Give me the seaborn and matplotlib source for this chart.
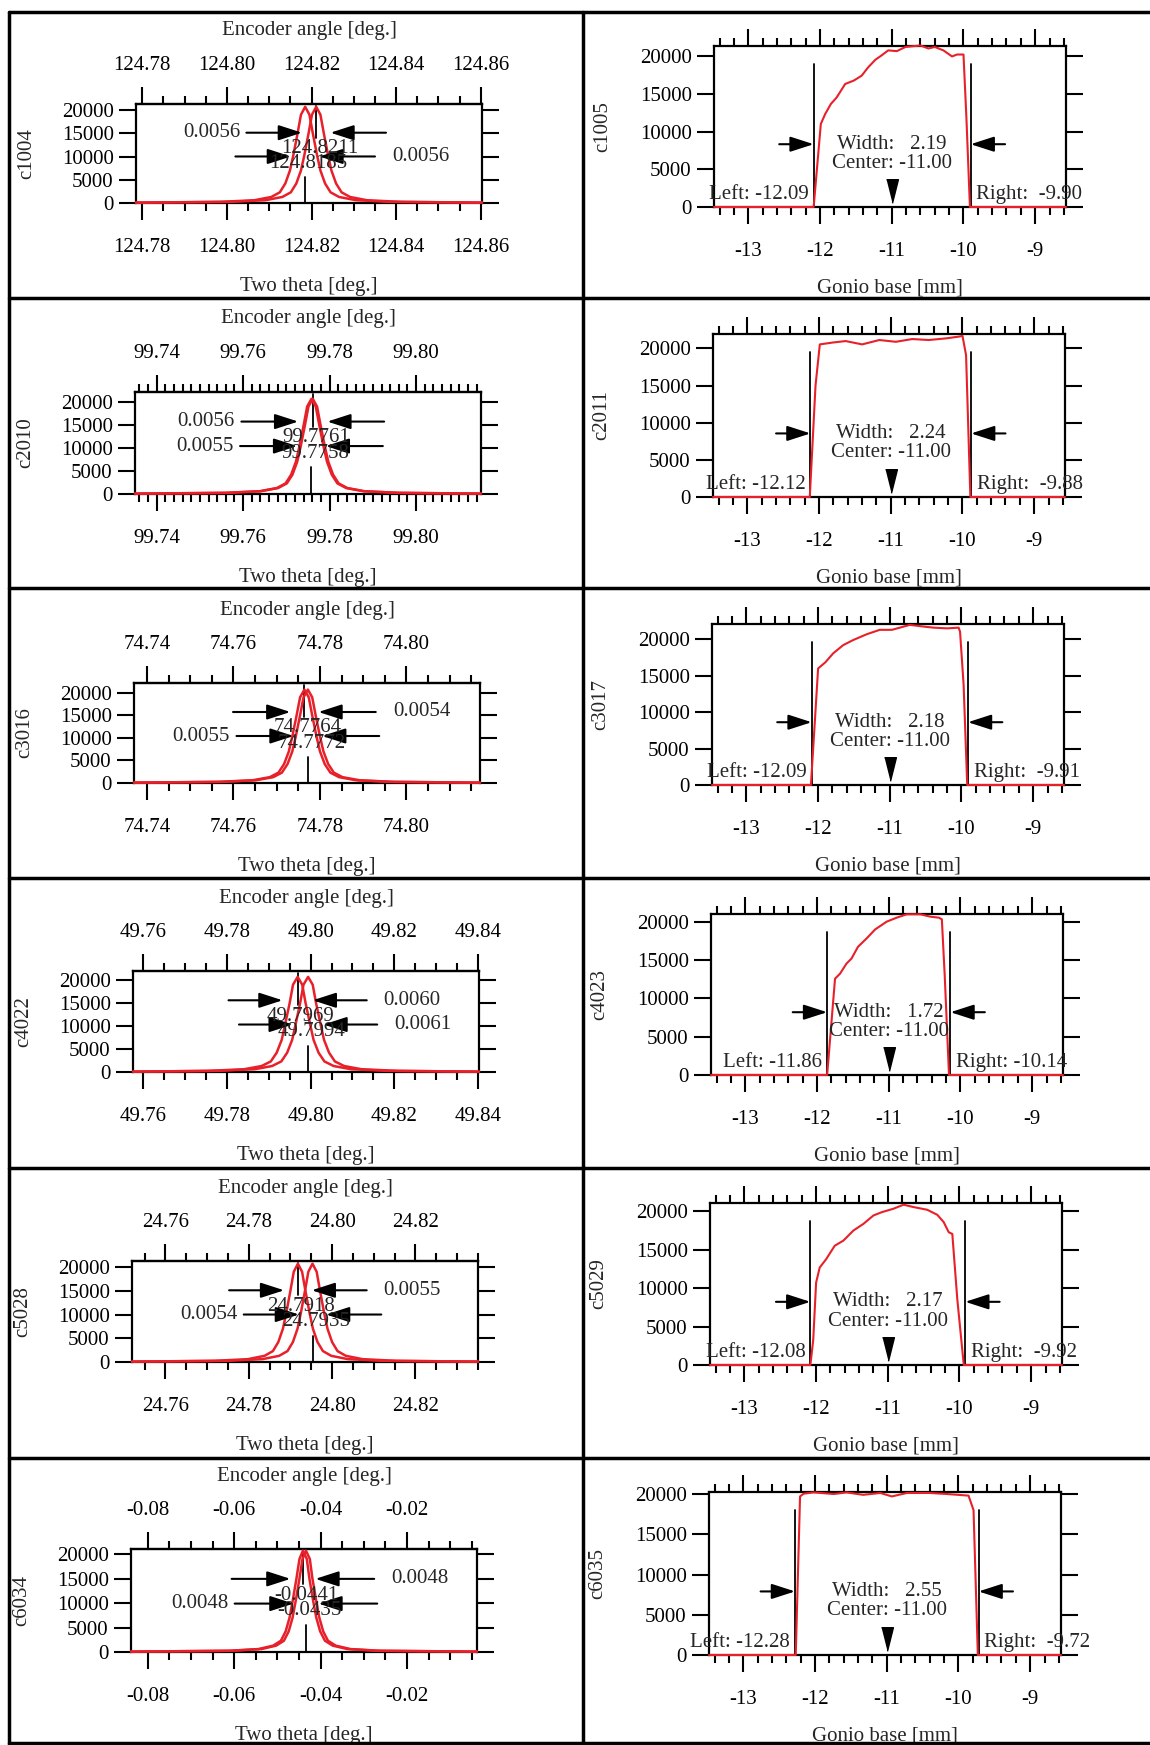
import matplotlib
matplotlib.use('Agg')
import matplotlib.pyplot as plt
from matplotlib.lines import Line2D
from matplotlib.ticker import MultipleLocator, FuncFormatter
import numpy as np
import seaborn as sns

sns.set_style('ticks')
plt.rcParams['font.family'] = ['Liberation Serif', 'DejaVu Serif']
plt.rcParams['axes.unicode_minus'] = False
plt.rcParams['font.size'] = 15

RED = '#e8202a'

# ---- left column: diffraction peaks (two scans per crystal) ----
left_names = ['c1004', 'c2010', 'c3016', 'c4022', 'c5028', 'c6034']

# counts at the sampled points of every peak (left flank, apex, right flank)
peak_counts = [80, 250, 600, 1300, 2300, 4200, 7000, 10300, 15000, 19000, 20700,
               19000, 15000, 10300, 7000, 4200, 2300, 1300, 600, 250, 80]

p1_a = [124.7785, 124.8011, 124.8091, 124.8131, 124.8151, 124.8164, 124.8175, 124.8183, 124.8193, 124.8201, 124.8211,
        124.8221, 124.8229, 124.8239, 124.8247, 124.8258, 124.8271, 124.8291, 124.8331, 124.8411, 124.8603]
p1_b = [124.7785, 124.7985, 124.8065, 124.8105, 124.8125, 124.8138, 124.8149, 124.8157, 124.8167, 124.8175, 124.8185,
        124.8195, 124.8203, 124.8213, 124.8221, 124.8232, 124.8245, 124.8265, 124.8305, 124.8385, 124.8603]
p2_a = [99.7350, 99.7561, 99.7641, 99.7681, 99.7701, 99.7714, 99.7725, 99.7733, 99.7743, 99.7751, 99.7761,
        99.7771, 99.7779, 99.7789, 99.7797, 99.7808, 99.7821, 99.7841, 99.7881, 99.7961, 99.8150]
p2_b = [99.7350, 99.7558, 99.7638, 99.7678, 99.7698, 99.7711, 99.7722, 99.7730, 99.7740, 99.7748, 99.7758,
        99.7768, 99.7776, 99.7786, 99.7794, 99.7805, 99.7818, 99.7838, 99.7878, 99.7958, 99.8150]
p3_a = [74.7370, 74.7564, 74.7644, 74.7684, 74.7704, 74.7717, 74.7728, 74.7736, 74.7746, 74.7754, 74.7764,
        74.7774, 74.7782, 74.7792, 74.7800, 74.7811, 74.7824, 74.7844, 74.7884, 74.7964, 74.8170]
p3_b = [74.7370, 74.7572, 74.7652, 74.7692, 74.7712, 74.7725, 74.7736, 74.7744, 74.7754, 74.7762, 74.7772,
        74.7782, 74.7790, 74.7800, 74.7808, 74.7819, 74.7832, 74.7852, 74.7892, 74.7972, 74.8170]
p4_a = [49.7576, 49.7755, 49.7841, 49.7883, 49.7905, 49.7919, 49.7931, 49.7939, 49.7950, 49.7958, 49.7969,
        49.7980, 49.7988, 49.7999, 49.8007, 49.8019, 49.8033, 49.8055, 49.8097, 49.8183, 49.8402]
p4_b = [49.7576, 49.7780, 49.7866, 49.7908, 49.7930, 49.7944, 49.7956, 49.7964, 49.7975, 49.7983, 49.7994,
        49.8005, 49.8013, 49.8024, 49.8032, 49.8044, 49.8058, 49.8080, 49.8122, 49.8208, 49.8402]
p5_a = [24.7520, 24.7718, 24.7798, 24.7838, 24.7858, 24.7871, 24.7882, 24.7890, 24.7900, 24.7908, 24.7918,
        24.7928, 24.7936, 24.7946, 24.7954, 24.7965, 24.7978, 24.7998, 24.8038, 24.8118, 24.8350]
p5_b = [24.7520, 24.7753, 24.7833, 24.7873, 24.7893, 24.7906, 24.7917, 24.7925, 24.7935, 24.7943, 24.7953,
        24.7963, 24.7971, 24.7981, 24.7989, 24.8000, 24.8013, 24.8033, 24.8073, 24.8153, 24.8350]
p6_a = [-0.0839, -0.0612, -0.0544, -0.0510, -0.0492, -0.0481, -0.0472, -0.0465, -0.0456, -0.0449, -0.0441,
        -0.0432, -0.0426, -0.0417, -0.0410, -0.0401, -0.0390, -0.0372, -0.0338, -0.0270, -0.0038]
p6_b = [-0.0839, -0.0605, -0.0537, -0.0503, -0.0485, -0.0474, -0.0465, -0.0458, -0.0449, -0.0442, -0.0434,
        -0.0425, -0.0419, -0.0410, -0.0403, -0.0394, -0.0383, -0.0365, -0.0331, -0.0263, -0.0038]

peaks_a = [p1_a, p2_a, p3_a, p4_a, p5_a, p6_a]
peaks_b = [p1_b, p2_b, p3_b, p4_b, p5_b, p6_b]
center_a = ['124.8211', '99.7761', '74.7764', '49.7969', '24.7918', '-0.0441']
center_b = ['124.8185', '99.7758', '74.7772', '49.7994', '24.7935', '-0.0435']
fwhm_a = [0.0056, 0.0056, 0.0054, 0.0060, 0.0055, 0.0048]
fwhm_b = [0.0056, 0.0055, 0.0055, 0.0061, 0.0054, 0.0048]
side_a = ['left', 'left', 'right', 'right', 'right', 'right']
side_b = ['right', 'left', 'left', 'right', 'left', 'left']
left_xlim = [(124.7785, 124.8603), (99.735, 99.815), (74.737, 74.817),
             (49.7576, 49.8402), (24.752, 24.835), (-0.0839, -0.0038)]
left_minor = [0.005, 0.002, 0.005, 0.005, 0.005, 0.005]
left_ytop = [21300, 22180, 22160, 21980, 21270, 21040]

# ---- right column: gonio base scans ----
right_names = ['c1005', 'c2011', 'c3017', 'c4023', 'c5029', 'c6035']
r1_x = [-13.48, -12.09, -12.04, -11.99, -11.93, -11.85, -11.77, -11.65, -11.53, -11.42, -11.33, -11.23, -11.14,
        -11.05, -10.93, -10.81, -10.60, -10.49, -10.40, -10.28, -10.16, -10.09, -10.00, -9.96, -9.91, -8.57]
r1_y = [0, 0, 5500, 11000, 12300, 13650, 14500, 16300, 16750, 17400, 18500, 19500, 20100,
        20750, 20650, 21200, 21400, 21000, 21200, 20750, 19950, 20200, 20200, 12000, 0, 0]
r2_x = [-13.48, -12.13, -12.05, -11.99, -11.81, -11.63, -11.40, -11.16, -10.93, -10.70, -10.47, -10.23,
        -10.05, -10.00, -9.95, -9.89, -8.57]
r2_y = [0, 0, 15000, 20550, 20800, 21000, 20550, 21140, 20900, 21270, 21140, 21360,
        21600, 21700, 19100, 0, 0]
r3_x = [-13.48, -12.10, -12.00, -11.90, -11.79, -11.65, -11.51, -11.32, -11.14, -10.97, -10.86, -10.72,
        -10.53, -10.39, -10.20, -10.04, -10.02, -9.97, -9.92, -8.57]
r3_y = [0, 0, 16000, 16830, 18070, 19200, 19900, 20700, 21300, 21300, 21600, 21980,
        21750, 21600, 21500, 21600, 21050, 13700, 0, 0]
r4_x = [-13.48, -11.86, -11.75, -11.68, -11.59, -11.52, -11.43, -11.31, -11.19, -11.03, -10.89, -10.75,
        -10.56, -10.42, -10.30, -10.26, -10.22, -10.16, -8.57]
r4_y = [0, 0, 12560, 13220, 14530, 15190, 16720, 17810, 18990, 20000, 20520, 20960,
        20960, 20650, 20520, 20300, 13000, 0, 0]
r5_x = [-13.48, -12.08, -12.04, -12.00, -11.95, -11.86, -11.74, -11.62, -11.48, -11.34, -11.20, -11.08,
        -10.92, -10.78, -10.64, -10.45, -10.31, -10.22, -10.15, -10.10, -10.03, -9.94, -8.57]
r5_y = [0, 0, 3275, 10700, 12660, 13750, 15500, 16160, 17470, 18340, 19430, 19870,
        20310, 20830, 20520, 20170, 19520, 18560, 17250, 17030, 8500, 0, 0]
r6_x = [-13.48, -12.27, -12.21, -12.16, -12.02, -11.74, -11.56, -11.33, -11.09, -10.93, -10.72, -10.40,
        -10.16, -9.86, -9.79, -9.73, -8.57]
r6_y = [0, 0, 19700, 20040, 20200, 20000, 20200, 19900, 20130, 19700, 20130, 20130,
        20000, 19800, 18000, 0, 0]

scan_x = [r1_x, r2_x, r3_x, r4_x, r5_x, r6_x]
scan_y = [r1_y, r2_y, r3_y, r4_y, r5_y, r6_y]
edge_left = [-12.09, -12.12, -12.09, -11.86, -12.08, -12.28]
edge_right = [-9.90, -9.88, -9.91, -10.14, -9.92, -9.72]
widths = [2.19, 2.24, 2.18, 1.72, 2.17, 2.55]
centers = [-11.00, -11.00, -11.00, -11.00, -11.00, -11.00]
right_ytop = [21330, 21950, 22100, 21000, 21050, 20250]

# ---- layout (pixel boxes of the plot frames: x0, y0, x1, y1) ----
left_boxes = [(136, 104, 482, 203), (135, 392, 481, 494), (134, 683, 480, 783),
              (133, 971, 479, 1072), (132, 1261, 478, 1362), (131, 1549, 477, 1652)]
right_boxes = [(714, 46, 1066, 207), (713, 334, 1065, 497), (712, 624, 1064, 785),
               (711, 914, 1063, 1075), (710, 1203, 1062, 1365), (709, 1492, 1061, 1655)]

W, H = 1150, 1745
fig = plt.figure(figsize=(W / 100, H / 100), dpi=100)
fig.patch.set_facecolor('white')


def box(x0, y0, x1, y1):
    return [x0 / W, 1 - y1 / H, (x1 - x0) / W, (y1 - y0) / H]


arrow_kw = dict(arrowstyle='-|>,head_length=1.3,head_width=0.42', mutation_scale=11,
                lw=1.5, color='black', shrinkA=0, shrinkB=0)
tri = [(-1, 2), (1, 2), (0, -2)]


def style_ticks(axis_obj, xmaj, xmin, pad):
    axis_obj.xaxis.set_major_locator(MultipleLocator(xmaj))
    axis_obj.xaxis.set_minor_locator(MultipleLocator(xmin))
    axis_obj.tick_params(axis='x', which='both', direction='out', width=1.5, colors='black', labelsize=15)
    axis_obj.tick_params(axis='x', which='major', length=12, pad=pad)
    axis_obj.tick_params(axis='x', which='minor', length=6)


def style_axes(ax, xmaj, xmin, top_ticks):
    for s in ax.spines.values():
        s.set_linewidth(1.6)
        s.set_color('black')
    style_ticks(ax, xmaj, xmin, 13.5)
    ax.set_yticks([0, 5000, 10000, 15000, 20000])
    ax.yaxis.set_major_formatter(FuncFormatter(lambda v, p: f'{v:.0f}'))
    ax.tick_params(axis='x', which='both', top=top_ticks, labeltop=False)
    ax.tick_params(axis='y', which='major', direction='out', width=1.5, length=12, pad=4,
                   colors='black', right=True, labelright=False, labelsize=15)
    ax.tick_params(axis='y', which='minor', left=False, right=False)
    ax.set_facecolor('white')


for i in range(6):
    # left panel
    x0, y0, x1, y1 = left_boxes[i]
    h = y1 - y0
    ax = fig.add_axes(box(*left_boxes[i]))
    xa, xb = peaks_a[i], peaks_b[i]
    sns.lineplot(x=xa, y=peak_counts, ax=ax, color=RED, lw=1.8, sort=False,
                 estimator=None, zorder=3, clip_on=False)
    sns.lineplot(x=xb, y=peak_counts, ax=ax, color=RED, lw=1.8, sort=False,
                 estimator=None, zorder=3, clip_on=False)
    ax.set_xlim(*left_xlim[i])
    ax.set_ylim(0, left_ytop[i])
    style_axes(ax, 0.02, left_minor[i], False)
    ax.xaxis.set_major_formatter(FuncFormatter(lambda v, p: f'{v:.2f}'))
    # encoder angle axis on top
    sec = ax.secondary_xaxis('top')
    style_ticks(sec, 0.02, left_minor[i], 9)
    sec.xaxis.set_major_formatter(FuncFormatter(lambda v, p: f'{v:.2f}'))
    sec.spines['top'].set_linewidth(1.6)
    ax.set_ylabel(left_names[i], fontsize=15)
    ax.yaxis.set_label_coords(-0.289, 0.5)
    ax.set_xlabel('Two theta [deg.]', fontsize=15)
    ax.xaxis.set_label_coords(0.5, -74 / h)
    ax.text(0.5, 1 + 73 / h, 'Encoder angle [deg.]', ha='center', va='center',
            fontsize=15, transform=ax.transAxes)

    trans = ax.get_xaxis_transform()
    top_i = int(np.argmax(peak_counts))
    ca, cb = xa[top_i], xb[top_i]
    ax.plot([ca, ca], [0.66, 0.98], transform=trans, color='black', lw=1.3)
    ax.plot([cb, cb], [0.0, 0.26], transform=trans, color='black', lw=1.3)
    for c, fw, side, yrow in [(ca, fwhm_a[i], side_a[i], 0.71), (cb, fwhm_b[i], side_b[i], 0.47)]:
        gap, tail = 0.6 * fw, 0.0165
        for sgn in (-1, 1):
            ax.annotate('', xy=(c + sgn * gap, yrow), xytext=(c + sgn * tail, yrow),
                        xycoords=trans, textcoords=trans, arrowprops=arrow_kw)
        if side == 'left':
            ax.text(c - tail - 0.0015, yrow, f'{fw:.4f}', ha='right', va='center',
                    fontsize=15, transform=trans)
        else:
            ax.text(c + tail + 0.004, yrow, f'{fw:.4f}', ha='left', va='center',
                    fontsize=15, transform=trans)
    ax.text(ca + 0.0008, 0.55, center_a[i], ha='center', va='center', fontsize=15, transform=trans)
    ax.text(cb + 0.0008, 0.40, center_b[i], ha='center', va='center', fontsize=15, transform=trans)

    # right panel
    x0, y0, x1, y1 = right_boxes[i]
    h = y1 - y0
    ax = fig.add_axes(box(*right_boxes[i]))
    sns.lineplot(x=scan_x[i], y=scan_y[i], ax=ax, color=RED, lw=1.5, sort=False,
                 estimator=None, zorder=3, clip_on=False)
    ax.set_xlim(-13.48, -8.57)
    ax.set_ylim(0, right_ytop[i])
    style_axes(ax, 1, 0.2, True)
    ax.xaxis.set_major_formatter(FuncFormatter(lambda v, p: f'{v:.0f}'))
    ax.set_ylabel(right_names[i], fontsize=15)
    ax.yaxis.set_label_coords(-0.29, 0.5)
    ax.set_xlabel('Gonio base [mm]', fontsize=15)
    ax.xaxis.set_label_coords(0.5, -72 / h)

    trans = ax.get_xaxis_transform()
    L, R, c = edge_left[i], edge_right[i], centers[i]
    ax.plot([L, L], [0, 0.89], transform=trans, color='black', lw=1.3)
    ax.plot([R, R], [0, 0.89], transform=trans, color='black', lw=1.3)
    ax.annotate('', xy=(L, 0.39), xytext=(L - 0.48, 0.39), xycoords=trans,
                textcoords=trans, arrowprops=arrow_kw)
    ax.annotate('', xy=(R, 0.39), xytext=(R + 0.48, 0.39), xycoords=trans,
                textcoords=trans, arrowprops=arrow_kw)
    ax.text(c, 0.39, f'Width: {widths[i]:6.2f}', ha='center', va='center',
            fontsize=15, transform=trans)
    ax.text(c, 0.27, f'Center: {c:6.2f}', ha='center', va='center',
            fontsize=15, transform=trans)
    ax.plot([c], [0.097], marker=tri, ms=17, color='black', transform=trans, clip_on=False)
    ax.text(L - 0.07, 0.02, f'Left: {L:6.2f}', ha='right', va='bottom', fontsize=15,
            transform=trans)
    ax.text(R + 0.08, 0.02, f'Right: {R:6.2f}', ha='left', va='bottom', fontsize=15,
            transform=trans)


def fig_line(xa0, ya0, xa1, ya1):
    fig.add_artist(Line2D([xa0 / W, xa1 / W], [1 - ya0 / H, 1 - ya1 / H], color='black',
                          lw=2.5, transform=fig.transFigure))


fig_line(9, 12, 1150, 12)
fig_line(9, 12, 9, 1745)
fig_line(583, 12, 583, 1745)
fig_line(9, 1743, 1150, 1743)
for yy in [298, 588, 878, 1168, 1458]:
    fig_line(9, yy, 1150, yy)

fig.savefig('out.png', dpi=100, facecolor='white')
